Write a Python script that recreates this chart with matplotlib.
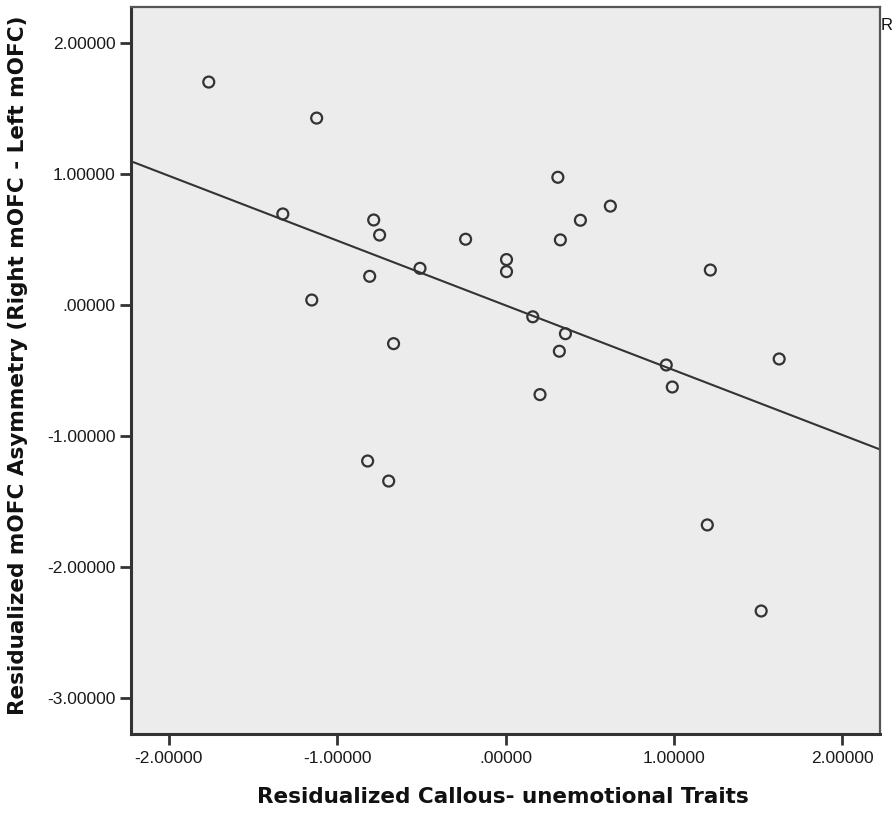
import matplotlib
matplotlib.use("Agg")
import matplotlib.pyplot as plt
import numpy as np

# residualized callous-unemotional traits (x) vs residualized mOFC asymmetry (y)
cu_traits = [-1.763, -1.122, -1.323, -0.783, -0.748, -0.807, -1.151, -0.508,
             -0.665, -0.237, 0.006, 0.006, 0.311, 0.326, 0.445, 0.623,
             0.162, 0.356, 0.320, 0.205, 0.955, 0.991, 1.217, 1.626,
             -0.819, -0.694, 1.199, 1.519]
mofc_asym = [1.702, 1.427, 0.695, 0.649, 0.534, 0.219, 0.038, 0.280,
             -0.295, 0.502, 0.347, 0.255, 0.975, 0.497, 0.647, 0.755,
             -0.090, -0.219, -0.353, -0.684, -0.458, -0.626, 0.267, -0.412,
             -1.191, -1.344, -1.679, -2.336]

xticks = [-2, -1, 0, 1, 2]
xticklabels = ["-2.00000", "-1.00000", ".00000", "1.00000", "2.00000"]
yticks = [2, 1, 0, -1, -2, -3]
yticklabels = ["2.00000", "1.00000", ".00000", "-1.00000", "-2.00000", "-3.00000"]

DARK = "#333333"
BG = "#ECECEC"

plt.rcParams["font.family"] = ["Liberation Sans", "DejaVu Sans"]

fig = plt.figure(figsize=(8.92, 8.15), dpi=100)
ax = fig.add_axes([131 / 892, 1 - 734 / 815, (880 - 131) / 892, (734 - 7) / 815])
ax.set_facecolor(BG)

xlim = (-2.225, 2.225)
ylim = (-3.275, 2.275)
ax.set_xlim(*xlim)
ax.set_ylim(*ylim)

# OLS fit line across the full x range
slope, intercept = np.polyfit(cu_traits, mofc_asym, 1)
xs = np.array(xlim)
ax.plot(xs, slope * xs + intercept, color=DARK, linewidth=1.5, zorder=2)

ax.scatter(cu_traits, mofc_asym, s=62, facecolors="none", edgecolors=DARK,
           linewidths=1.6, zorder=3)

ax.set_xticks(xticks)
ax.set_xticklabels(xticklabels)
ax.set_yticks(yticks)
ax.set_yticklabels(yticklabels)
ax.tick_params(direction="out", length=8, width=2, color=DARK,
               labelsize=12.5, labelcolor="#1a1a1a")
ax.tick_params(axis="x", pad=4)
ax.tick_params(axis="y", pad=3)

for side in ["left", "bottom"]:
    ax.spines[side].set_linewidth(2.2)
    ax.spines[side].set_color(DARK)
for side in ["top", "right"]:
    ax.spines[side].set_linewidth(1.6)
    ax.spines[side].set_color("#555555")

label_font = dict(family="DejaVu Sans", fontsize=15.5, fontweight="bold",
                  color="#111111")
ax.set_xlabel("Residualized Callous- unemotional Traits", va="center", **label_font)
ax.set_ylabel("Residualized mOFC Asymmetry (Right mOFC - Left mOFC)", va="center",
              **label_font)
ax.xaxis.set_label_coords(0.497, -0.087)
ax.yaxis.set_label_coords(-0.151, 0.507)

# R-squared label, clipped by the figure edge as in the original
fig.text(881 / 892, 1 - 26 / 815, "R² Linear = 0.256", fontsize=12,
         ha="left", va="center", color="#111111")

fig.savefig("out.png", dpi=100)
